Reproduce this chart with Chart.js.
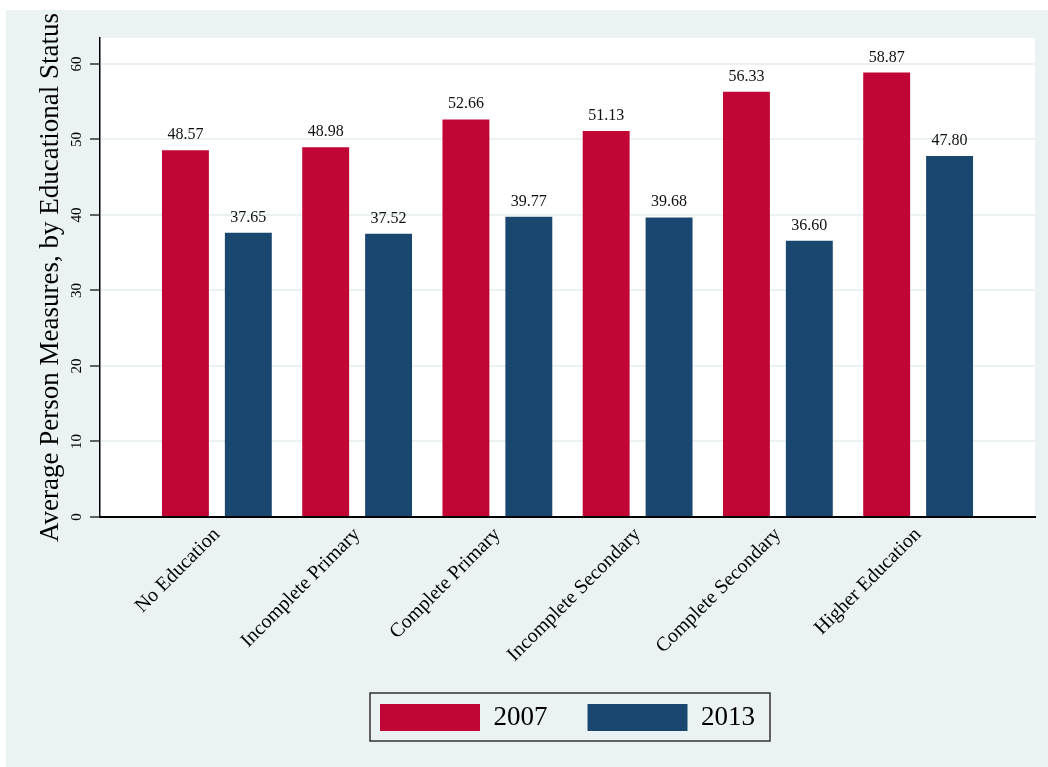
<!DOCTYPE html>
<html>
<head>
<meta charset="utf-8">
<script src="https://cdn.jsdelivr.net/npm/chart.js@4.4.1/dist/chart.umd.min.js"></script>
<style>
  html, body { margin: 0; padding: 0; background: #ffffff; }
  #wrap { position: relative; width: 1048px; height: 767px; }
</style>
</head>
<body>
<div id="wrap"><canvas id="c"></canvas></div>
<script>
const categories = ["No Education", "Incomplete Primary", "Complete Primary", "Incomplete Secondary", "Complete Secondary", "Higher Education"];
const seriesNames = ["2007", "2013"];
const values2007 = [48.57, 48.98, 52.66, 51.13, 56.33, 58.87];
const values2013 = [37.65, 37.52, 39.77, 39.68, 36.60, 47.80];
const yTicks = [0, 10, 20, 30, 40, 50, 60];
const yTitle = "Average Person Measures, by Educational Status";

const SERIF = "'Liberation Serif', 'Times New Roman', serif";

// Category scale with extra outer space at both ends (Stata-like group spacing)
class PaddedCategoryScale extends Chart.CategoryScale {
  buildTicks() {
    const ticks = super.buildTicks();
    const pad = this.options.edgePad || 0;
    this._startValue -= pad;
    this._valueRange += 2 * pad;
    return ticks;
  }
}
PaddedCategoryScale.id = 'paddedCategory';
PaddedCategoryScale.defaults = Chart.CategoryScale.defaults;
Chart.register(PaddedCategoryScale);

const backgroundPlugin = {
  id: 'bgPanels',
  beforeDraw(chart) {
    const ctx = chart.ctx;
    const a = chart.chartArea;
    ctx.save();
    ctx.fillStyle = '#EAF2F3';
    ctx.fillRect(6, 10, chart.width - 6, chart.height - 10);
    ctx.fillStyle = '#ffffff';
    ctx.fillRect(a.left, a.top, a.right - a.left, a.bottom - a.top);
    ctx.restore();
  }
};

const valueLabelPlugin = {
  id: 'valueLabels',
  afterDatasetsDraw(chart) {
    const ctx = chart.ctx;
    ctx.save();
    ctx.font = "16px " + SERIF;
    ctx.fillStyle = '#111111';
    ctx.textAlign = 'center';
    ctx.textBaseline = 'alphabetic';
    chart.data.datasets.forEach((ds, di) => {
      const meta = chart.getDatasetMeta(di);
      meta.data.forEach((bar, i) => {
        ctx.fillText(Number(ds.data[i]).toFixed(2), bar.x, bar.y - 11);
      });
    });
    ctx.restore();
  }
};

const legendBoxPlugin = {
  id: 'legendBox',
  afterDraw(chart) {
    const lg = chart.legend;
    if (!lg || !lg.legendHitBoxes || !lg.legendHitBoxes.length) return;
    const hb = lg.legendHitBoxes;
    const first = hb[0], last = hb[hb.length - 1];
    const left = first.left - 10;
    const right = last.left + last.width + 15;
    const top = first.top - 11;
    const bottom = first.top + first.height + 10;
    const ctx = chart.ctx;
    ctx.save();
    ctx.fillStyle = '#ffffff';
    ctx.globalCompositeOperation = 'destination-over';
    ctx.fillRect(left, top, right - left, bottom - top);
    ctx.globalCompositeOperation = 'source-over';
    ctx.strokeStyle = '#333333';
    ctx.lineWidth = 1.5;
    ctx.strokeRect(left, top, right - left, bottom - top);
    ctx.restore();
  }
};

new Chart(document.getElementById('c'), {
  type: 'bar',
  data: {
    labels: categories,
    datasets: [
      { label: seriesNames[0], data: values2007, backgroundColor: '#C10534', borderWidth: 0 },
      { label: seriesNames[1], data: values2013, backgroundColor: '#1A476F', borderWidth: 0 }
    ]
  },
  options: {
    responsive: true,
    maintainAspectRatio: false,
    animation: false,
    layout: { padding: { left: 6, right: 13, top: 38, bottom: 26 } },
    datasets: { bar: { categoryPercentage: 0.897, barPercentage: 0.746 } },
    plugins: {
      tooltip: { enabled: false },
      legend: {
        position: 'bottom',
        fullSize: false,
        labels: {
          boxWidth: 100,
          boxHeight: 27,
          padding: 40,
          color: '#000000',
          font: { family: SERIF, size: 27 }
        }
      }
    },
    scales: {
      x: {
        type: 'paddedCategory',
        edgePad: 1 / 3,
        offset: true,
        grid: { display: false, drawTicks: false },
        border: { display: true, color: '#000000', width: 2 },
        ticks: {
          color: '#000000',
          font: { family: SERIF, size: 20 },
          minRotation: 45,
          maxRotation: 45,
          padding: 6,
          autoSkip: false
        },
        afterFit(scale) { scale.height = 147; }
      },
      y: {
        min: 0,
        max: 63.44,
        afterBuildTicks(scale) { scale.ticks = yTicks.map(v => ({ value: v })); },
        grid: {
          color: (c) => (c.tick && c.tick.value === 0 ? 'rgba(0,0,0,0)' : '#EAF2F3'),
          lineWidth: 2,
          drawTicks: true,
          tickLength: 10,
          tickColor: '#000000',
          tickWidth: 1.2
        },
        border: { display: true, color: '#000000', width: 1.5 },
        ticks: {
          color: '#000000',
          font: { family: SERIF, size: 15 },
          minRotation: 90,
          maxRotation: 90,
          crossAlign: 'center',
          padding: 5,
          includeBounds: false
        },
        title: {
          display: true,
          text: yTitle,
          color: '#000000',
          font: { family: SERIF, size: 27 },
          padding: { top: 29, bottom: 0 }
        },
        afterFit(scale) { scale.width = 94; }
      }
    }
  },
  plugins: [backgroundPlugin, valueLabelPlugin, legendBoxPlugin]
});
</script>
</body>
</html>
